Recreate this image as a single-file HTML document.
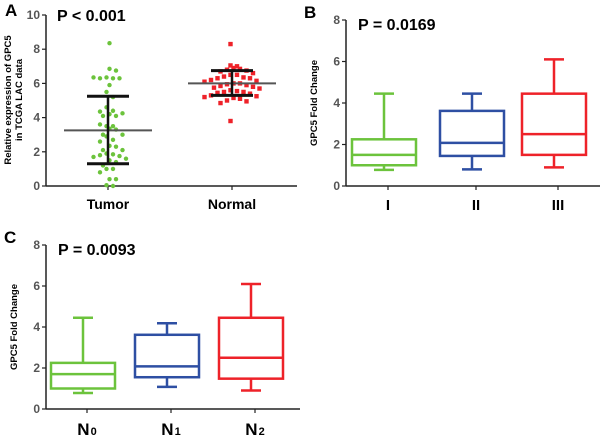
<!DOCTYPE html>
<html><head><meta charset="utf-8"><style>
html,body{margin:0;padding:0;background:#fff;width:600px;height:435px;overflow:hidden}
svg{font-family:"Liberation Sans",Arial,sans-serif;font-weight:bold}
</style></head><body>
<svg id="fig" width="600" height="435" viewBox="0 0 600 435" xmlns="http://www.w3.org/2000/svg"></svg>
<script>
// Panel A data
const tumorValues=[8.35,6.85,6.75,6.35,6.3,6.3,6.3,6.35,5.9,5.5,5.2,4.6,4.4,4.35,4.2,4.1,4.1,4.25,3.5,3.5,3.35,3.3,3.6,3.0,3.0,2.9,2.7,2.6,2.35,2.3,2.1,2.1,1.9,1.85,1.8,1.75,1.7,1.6,1.5,1.4,1.2,1.0,1.0,0.8,0.4,0.4,0.05,0.0];
const normalValues=[8.3,7.05,7.0,6.9,6.85,6.8,6.75,6.7,6.6,6.5,6.5,6.4,6.35,6.3,6.3,6.2,6.15,6.1,6.0,6.0,5.95,5.9,5.85,5.8,5.75,5.7,5.6,5.55,5.5,5.5,5.45,5.4,5.3,5.25,5.2,5.15,5.1,5.0,4.95,4.85,3.8];
const tumorStats=[3.25,1.3,5.25]; // mean, low, high
const normalStats=[6.0,5.3,6.75];
const aTicks=[0,2,4,6,8,10];
// Panel B data
const bCats=["I","II","III"];
const bMin=[0.78,0.8,0.9],bQ1=[1.0,1.45,1.5],bMed=[1.5,2.08,2.5],bQ3=[2.25,3.62,4.45],bMax=[4.45,4.45,6.1];
// Panel C data
const cCats=["N0","N1","N2"];
const cMin=[0.78,1.08,0.9],cQ1=[1.0,1.55,1.48],cMed=[1.7,2.08,2.5],cQ3=[2.25,3.62,4.45],cMax=[4.45,4.18,6.1];
const bcTicks=[0,2,4,6,8];
const colors=["#6cc33c","#2e4fa3","#ee2229"];

const svg=document.getElementById('fig');
const NS="http://www.w3.org/2000/svg";
function el(tag,attrs,parent,text){const e=document.createElementNS(NS,tag);for(const k in attrs)e.setAttribute(k,attrs[k]);if(text!==undefined)e.textContent=text;(parent||svg).appendChild(e);return e;}
function line(g,x1,y1,x2,y2,c,w){return el('line',{x1,y1,x2,y2,stroke:c,'stroke-width':w},g);}

function axes(g,x0,x1,yScale,ticks,tickName){
  const yb=yScale(ticks[0]),yt=yScale(ticks[ticks.length-1]);
  line(g,x0,yt,x0,yb,'#222',1.5);
  line(g,x0,yb,x1,yb,'#222',1.5);
  ticks.forEach(t=>{const y=yScale(t);line(g,x0-4,y,x0,y,'#222',1.2);
    const tx=el('text',{x:x0-6,y:y+4,'text-anchor':'end','font-size':12,fill:'#555'},g,String(t));
    
    });
}

// ---------- Panel A ----------
const gA=el('g',{});
const yA=v=>186-v*17.1;
axes(gA,46,297,yA,aTicks,'a-y-tick');
[108,232].forEach(x=>line(gA,x,186,x,190,'#222',1.2));
let t=el('text',{x:5,y:16,'font-size':17},gA,'A');
t=el('text',{x:57,y:21,'font-size':16},gA,'P < 0.001');
t=el('text',{transform:'translate(11,100) rotate(-90)','text-anchor':'middle','font-size':9.5},gA);

el('tspan',{x:0,dy:0},t,'Relative expression of GPC5');el('tspan',{x:0,dy:11},t,'in TCGA LAC data');
[['Tumor',108],['Normal',232]].forEach(([s,x])=>{const e=el('text',{x,y:209,'text-anchor':'middle','font-size':14},gA,s);});
function swarm(vals,cx,color,shape,name){
  const counts={};
  vals.forEach(v=>{const b=Math.round(v/0.45);counts[b]=(counts[b]||0);const k=counts[b]++;
    const off=(k%2?1:-1)*Math.ceil(k/2)*6.5;
    const x=cx+off+((b%2)?3:0)-1.5,y=yA(v);
    let m;
    if(shape==='c')m=el('circle',{cx:x,cy:y,r:2.2,fill:color},gA);
    else m=el('rect',{x:x-2.2,y:y-2.2,width:4.4,height:4.4,fill:color},gA);
    });
}
swarm(tumorValues,108,'#6cc33c','c','tumor');
swarm(normalValues,232,'#ee2229','s','normal');
function errbar(cx,st,name){
  const g=el('g',{},gA);
  line(g,cx-44,yA(st[0]),cx+44,yA(st[0]),'#555',2);
  line(g,cx,yA(st[1]),cx,yA(st[2]),'#111',2.5);
  line(g,cx-21,yA(st[1]),cx+21,yA(st[1]),'#111',3);
  line(g,cx-21,yA(st[2]),cx+21,yA(st[2]),'#111',3);
}
errbar(108,tumorStats,'tumor');errbar(232,normalStats,'normal');

// ---------- Box panels ----------
function boxPanel(name,letter,p,ox,y0,pxPer2,cats,mn,q1,md,q3,mx,centers,bw,labelFn){
  const g=el('g',{});
  const ys=v=>y0-v*pxPer2/2;
  axes(g,ox,ox+254,ys,bcTicks,name+'-y-tick');
  let e=el('text',{x:ox-42,y:ys(8)-2,'font-size':17},g,letter);
  e=el('text',{x:ox+12,y:ys(8)+10,'font-size':16},g,p);
  e=el('text',{transform:`translate(${ox-29},${ys(4)}) rotate(-90)`,'text-anchor':'middle','font-size':9.5},g,'GPC5 Fold Change');
  cats.forEach((c,i)=>{
    const cx=centers[i],col=colors[i];
    line(g,cx+4,y0,cx+4,y0+4,'#222',1.2);
    const b=el('g',{},g);
    line(b,cx,ys(mn[i]),cx,ys(q1[i]),col,2.5);
    line(b,cx,ys(q3[i]),cx,ys(mx[i]),col,2.5);
    line(b,cx-10,ys(mn[i]),cx+10,ys(mn[i]),col,2.5);
    line(b,cx-10,ys(mx[i]),cx+10,ys(mx[i]),col,2.5);
    el('rect',{x:cx-bw/2,y:ys(q3[i]),width:bw,height:ys(q1[i])-ys(q3[i]),fill:'none',stroke:col,'stroke-width':2.5},b);
    line(b,cx-bw/2,ys(md[i]),cx+bw/2,ys(md[i]),col,2.5);
    labelFn(g,c,cx+4,y0+24);
  });
}
boxPanel('panel-b','B','P = 0.0169',346,186,41.5,bCats,bMin,bQ1,bMed,bQ3,bMax,[384,472,554],64,(g,c,x,y)=>{
  const e=el('text',{x,y,'text-anchor':'middle','font-size':15},g,c);});
boxPanel('panel-c','C','P = 0.0093',46,409,41,cCats,cMin,cQ1,cMed,cQ3,cMax,[83,167,251],64,(g,c,x,y)=>{
  const e=el('text',{x,y:y+2,'text-anchor':'middle','font-size':17},g);
  el('tspan',{},e,c[0]);el('tspan',{'font-size':11,dx:1},e,c.slice(1));});
</script>
</body></html>
